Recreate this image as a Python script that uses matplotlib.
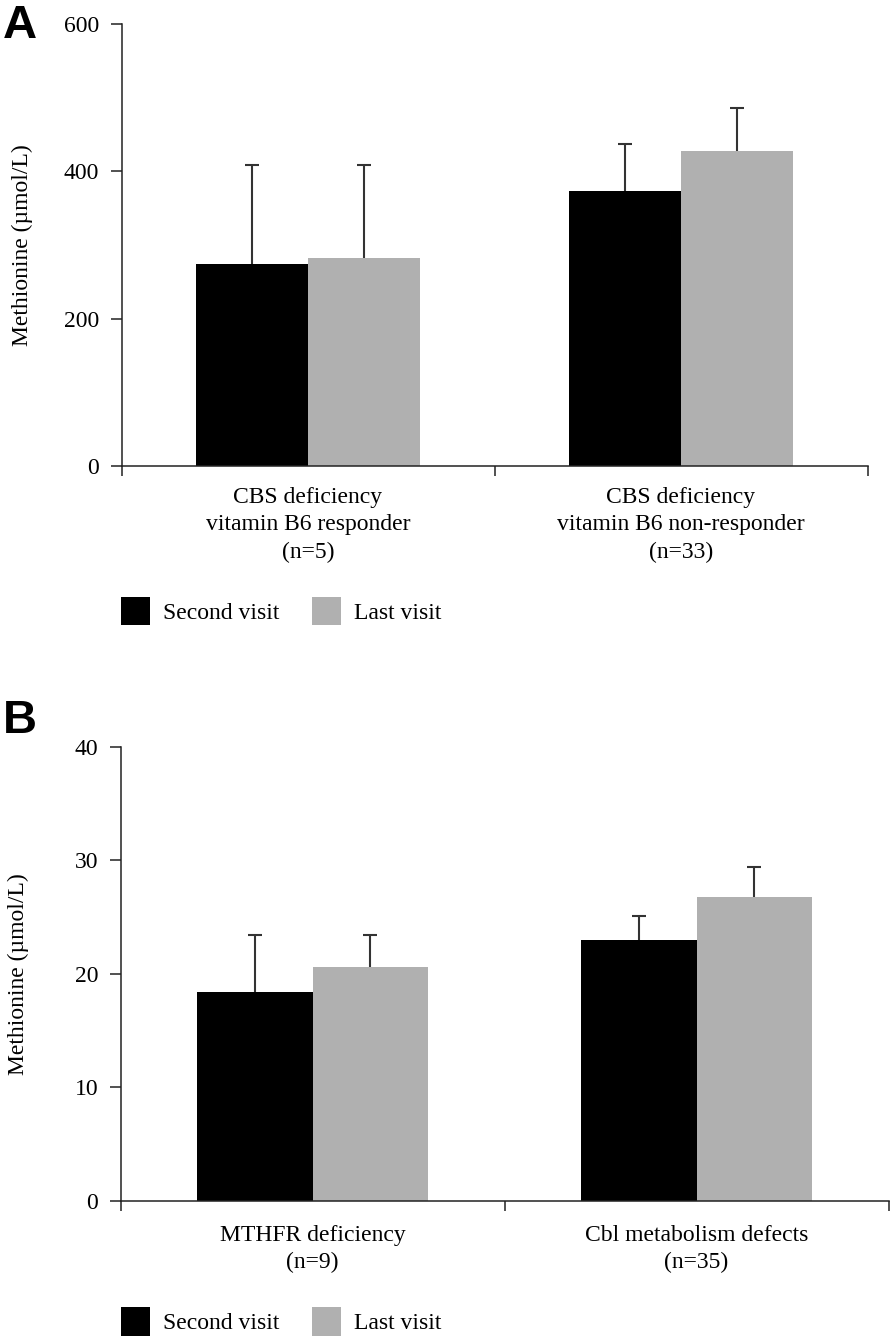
import matplotlib
matplotlib.use('Agg')
from matplotlib import pyplot as plt
from matplotlib.patches import Patch
import numpy as np

# panel A data
cats_a = ['CBS deficiency\nvitamin B6 responder\n(n=5)',
          'CBS deficiency\nvitamin B6 non-responder\n(n=33)']
second_a = [274, 373]
second_a_err = [135, 64]
last_a = [282, 428]
last_a_err = [127, 58]
yticks_a = [0, 200, 400, 600]

# panel B data
cats_b = ['MTHFR deficiency\n(n=9)', 'Cbl metabolism defects\n(n=35)']
second_b = [18.4, 23.0]
second_b_err = [5.0, 2.1]
last_b = [20.6, 26.8]
last_b_err = [2.8, 2.6]
yticks_b = [0, 10, 20, 30, 40]

series_names = ['Second visit', 'Last visit']
colors = ['#000000', '#b0b0b0']

plt.rcParams['font.family'] = ['Liberation Serif', 'DejaVu Serif']
FS = 17
W, H = 896, 1339
fig = plt.figure(figsize=(W / 100, H / 100), dpi=100)


def panel(rect, cats, s1, e1, s2, e2, yticks, letter, letter_y, ylab_x, leg_y, lab_pad):
    ax = fig.add_axes(rect)
    x = np.arange(len(cats)) + 0.5
    w = 0.3
    for vals, errs, off, c in [(s1, e1, -w / 2, colors[0]), (s2, e2, w / 2, colors[1])]:
        ax.bar(x + off, vals, width=w, color=c, edgecolor='none', zorder=2)
        eb = ax.errorbar(x + off, vals, yerr=[np.zeros(len(vals)), errs], fmt='none',
                         ecolor='#333333', elinewidth=1.5, capsize=4.7, capthick=1.5, zorder=3)
        # hide caps at the bar tops
        for cl in eb[1]:
            if np.allclose(cl.get_ydata(), vals):
                cl.set_visible(False)
    ax.set_xlim(0, len(cats))
    ax.set_ylim(yticks[0], yticks[-1])
    ax.set_yticks(yticks)
    ax.set_xticks(np.arange(len(cats) + 1))
    ax.set_xticklabels([])
    ax.set_xticks(x, minor=True)
    ax.set_xticklabels(cats, minor=True, fontsize=FS, linespacing=1.4)
    for s in ['top', 'right']:
        ax.spines[s].set_visible(False)
    for s in ['left', 'bottom']:
        ax.spines[s].set_linewidth(1.1)
        ax.spines[s].set_color('#222222')
    ax.tick_params(axis='y', direction='out', length=8, width=1.1, color='#222222',
                   labelsize=FS, pad=8)
    ax.tick_params(axis='x', which='major', direction='out', length=7.5, width=1.1,
                   color='#222222')
    ax.tick_params(axis='x', which='minor', length=0, pad=lab_pad)
    fig.text(3 / W, letter_y, letter, fontsize=34, fontweight='bold',
             family=['Liberation Sans', 'DejaVu Sans'], va='baseline', ha='left')
    fig.text(ylab_x, rect[1] + rect[3] / 2, 'Methionine (\u00b5mol/L)', fontsize=FS,
             rotation=90, ha='center', va='center')
    handles = [Patch(facecolor=c, edgecolor='none') for c in colors]
    fig.legend(handles, series_names, loc='center left', bbox_to_anchor=(121 / W, leg_y),
               ncol=2, frameon=False, fontsize=FS, borderpad=0, borderaxespad=0,
               handlelength=1.22, handleheight=1.5, handletextpad=0.55,
               columnspacing=1.4)
    return ax


panel([121.5 / W, 1 - 466 / H, 746 / W, 442 / H], cats_a, second_a, second_a_err,
      last_a, last_a_err, yticks_a, 'A', 1 - 38 / H, 22 / W, 1 - 611 / H, 15)
panel([120.5 / W, 1 - 1201 / H, 768 / W, 454.3 / H], cats_b, second_b, second_b_err,
      last_b, last_b_err, yticks_b, 'B', 1 - 733 / H, 18 / W, 1 - 1321.5 / H, 17)

fig.savefig('out.png', dpi=100)
